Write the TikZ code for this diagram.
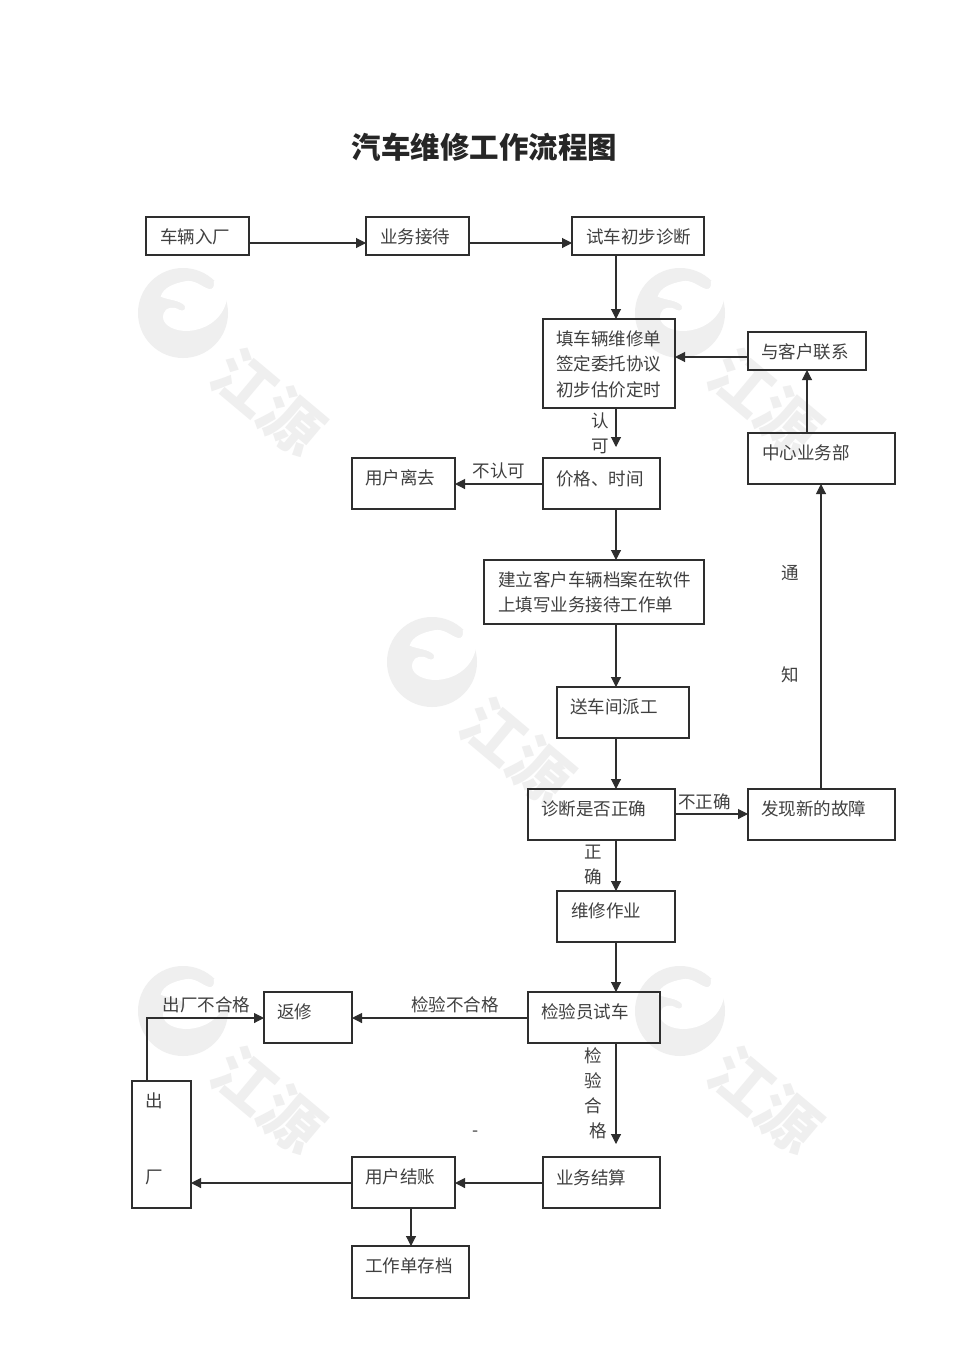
\documentclass[tikz,border=0pt]{standalone}
\usepackage{fontspec}
\setmainfont{Noto Sans CJK SC}
\usetikzlibrary{arrows.meta}
\definecolor{inkc}{HTML}{2E2E2E}
\definecolor{txtc}{HTML}{404040}
\definecolor{wmc}{HTML}{EFEFEF}
\tikzset{
  box/.style={draw=inkc,line width=.8pt,inner sep=0pt,outer sep=0pt,fill=none,text=txtc,font=\fontsize{13.15}{19.1}\selectfont},
  arr/.style={draw=inkc,line width=.8pt,-{Triangle[length=7.5pt,width=7.5pt]}},
  lab/.style={inner sep=0pt,text=txtc,font=\fontsize{13.15}{19.1}\selectfont},
  ttl/.style={inner sep=0pt,text=black!85,font=\fontsize{22.1}{26}\selectfont\bfseries},
  wm/.pic={
    \fill[wmc] (0,0) circle (45);
    \begin{scope}[shift={(-53.33,-52.33)},scale=1/3]
      \fill[white] (310,50) -- (252,62) .. controls (256,78) and (248,88) .. (238,85)
        .. controls (215,78) and (195,55) .. (165,62) .. controls (135,68) and (100,80) .. (93,108)
        .. controls (115,118) and (150,118) .. (165,135) .. controls (170,148) and (160,152) .. (150,148)
        .. controls (130,135) and (108,140) .. (102,158) .. controls (92,185) and (120,208) .. (165,211)
        .. controls (220,212) and (280,180) .. (292,115) -- (325,105) -- cycle;
    \end{scope}
    \node[rotate=-40,inner sep=0pt,text=wmc,font=\fontsize{46}{50}\selectfont\bfseries] (-txt) at (85,89) {江源};
  }
}
\newcommand\st{\rule[-4.5pt]{0pt}{14.6pt}}
\newcommand\bx[8]{%
  \pgfmathsetmacro\bw{(#4-#2)*0.75}%
  \pgfmathsetmacro\bh{(#5-#3)*0.75}%
  \pgfmathsetmacro\bl{(#6-#2)*0.75}%
  \pgfmathsetmacro\bt{(#7-#3)*0.75-5.8}%
  \node[box] (#1) at ({(#2+#4)/2},{(#3+#5)/2}) {\parbox[c][\bh pt][t]{\bw pt}{\vspace*{\bt pt}\parindent=0pt\leftskip=\bl pt\rightskip=0pt plus 1fil\baselineskip=19.1pt\lineskip=0pt #8}};%
}
\begin{document}
\begin{tikzpicture}[x=.75pt,y=-.75pt]
\useasboundingbox (0,0) rectangle (970,1371);
\fill[white] (0,0) rectangle (970,1371);
% watermarks
\pic (wa) at (183,313) {wm};
\pic (wb) at (680,313) {wm};
\pic (wc) at (432,662) {wm};
\pic (wd) at (183,1011) {wm};
\pic (we) at (680,1011) {wm};
% guide coordinates
\coordinate (x147) at (147,0);
\coordinate (x411) at (411,0);
\coordinate (x616) at (616,0);
\coordinate (x807) at (807,0);
\coordinate (x821) at (821,0);
\coordinate (y243) at (0,243);
\coordinate (y357) at (0,357);
\coordinate (y484) at (0,484);
\coordinate (y814) at (0,814);
\coordinate (y1018) at (0,1018);
\coordinate (y1183) at (0,1183);
\coordinate (endA) at (616,447);
\coordinate (endB) at (616,1144);
\coordinate (bend) at (147,1018);
% title
\node[ttl] (title) at (484.5,147) {汽车维修工作流程图};
% boxes
\bx{cl}{146}{217}{249}{255}{160}{236}{\st 车辆入厂}
\bx{yw}{366}{217}{469}{255}{380}{236}{\st 业务接待}
\bx{sc}{572}{217}{704}{255}{586}{236}{\st 试车初步诊断}
\bx{tc}{543}{319}{675}{408}{556}{338}{\st 填车辆维修单\\\st 签定委托协议\\\st 初步估价定时}
\bx{kh}{748}{332}{866}{370}{761}{351}{\st 与客户联系}
\bx{zx}{748}{433}{895}{484}{762}{452}{\st 中心业务部}
\bx{yh}{352}{458}{455}{509}{365}{477}{\st 用户离去}
\bx{jg}{543}{458}{660}{509}{556}{478}{\st 价格、时间}
\bx{jl}{484}{560}{704}{624}{498}{579}{\st 建立客户车辆档案在软件\\\st 上填写业务接待工作单}
\bx{pg}{557}{687}{689}{738}{570}{706}{\st 送车间派工}
\bx{zd}{528}{789}{675}{840}{541}{808}{\st 诊断是否正确}
\bx{gz}{748}{789}{895}{840}{761}{808}{\st 发现新的故障}
\bx{wx}{557}{891}{675}{942}{571}{910}{\st 维修作业}
\bx{jy}{528}{992}{660}{1043}{541}{1011}{\st 检验员试车}
\bx{fx}{264}{992}{352}{1043}{277}{1011}{\st 返修}
\bx{cc}{132}{1081}{191}{1208}{145}{1101}{\st 出\\[37.5pt]\st 厂}
\bx{jz}{352}{1157}{455}{1208}{365}{1176}{\st 用户结账}
\bx{js}{543}{1157}{660}{1208}{556}{1177}{\st 业务结算}
\bx{cd}{352}{1246}{469}{1298}{365}{1265}{\st 工作单存档}
% connectors
\draw[arr] (cl.east |- y243) -- (yw.west |- y243);
\draw[arr] (yw.east |- y243) -- (sc.west |- y243);
\draw[arr] (sc.south -| x616) -- (tc.north -| x616);
\draw[arr] (kh.west |- y357) -- (tc.east |- y357);
\draw[arr] (zx.north -| x807) -- (kh.south -| x807);
\draw[arr] (tc.south -| x616) -- (endA);
\draw[arr] (jg.west |- y484) -- (yh.east |- y484);
\draw[arr] (jg.south -| x616) -- (jl.north -| x616);
\draw[arr] (jl.south -| x616) -- (pg.north -| x616);
\draw[arr] (pg.south -| x616) -- (zd.north -| x616);
\draw[arr] (zd.east |- y814) -- (gz.west |- y814);
\draw[arr] (gz.north -| x821) -- (zx.south -| x821);
\draw[arr] (zd.south -| x616) -- (wx.north -| x616);
\draw[arr] (wx.south -| x616) -- (jy.north -| x616);
\draw[arr] (jy.west |- y1018) -- (fx.east |- y1018);
\draw[arr] (cc.north -| x147) -- (bend) -- (fx.west |- y1018);
\draw[arr] (jy.south -| x616) -- (endB);
\draw[arr] (js.west |- y1183) -- (jz.east |- y1183);
\draw[arr] (jz.west |- y1183) -- (cc.east |- y1183);
\draw[arr] (jz.south -| x411) -- (cd.north -| x411);
% labels
\node[lab] (l1) at (600.5,421) {认};
\node[lab] (l2) at (600.5,446) {可};
\node[lab] (l3) at (499,471) {不认可};
\node[lab] (l4) at (790,573) {通};
\node[lab] (l5) at (790,675) {知};
\node[lab] (l6) at (704.5,802) {不正确};
\node[lab] (l7) at (593.5,852) {正};
\node[lab] (l8) at (593.5,877) {确};
\node[lab] (l9) at (455,1005) {检验不合格};
\node[lab] (l10) at (206.5,1005) {出厂不合格};
\node[lab] (l11) at (593.5,1056) {检};
\node[lab] (l12) at (593.5,1081) {验};
\node[lab] (l13) at (593.5,1106) {合};
\node[lab] (l14) at (598.5,1131) {格};
\node[lab] (l15) at (476,1134) {-};
\end{tikzpicture}
\end{document}
